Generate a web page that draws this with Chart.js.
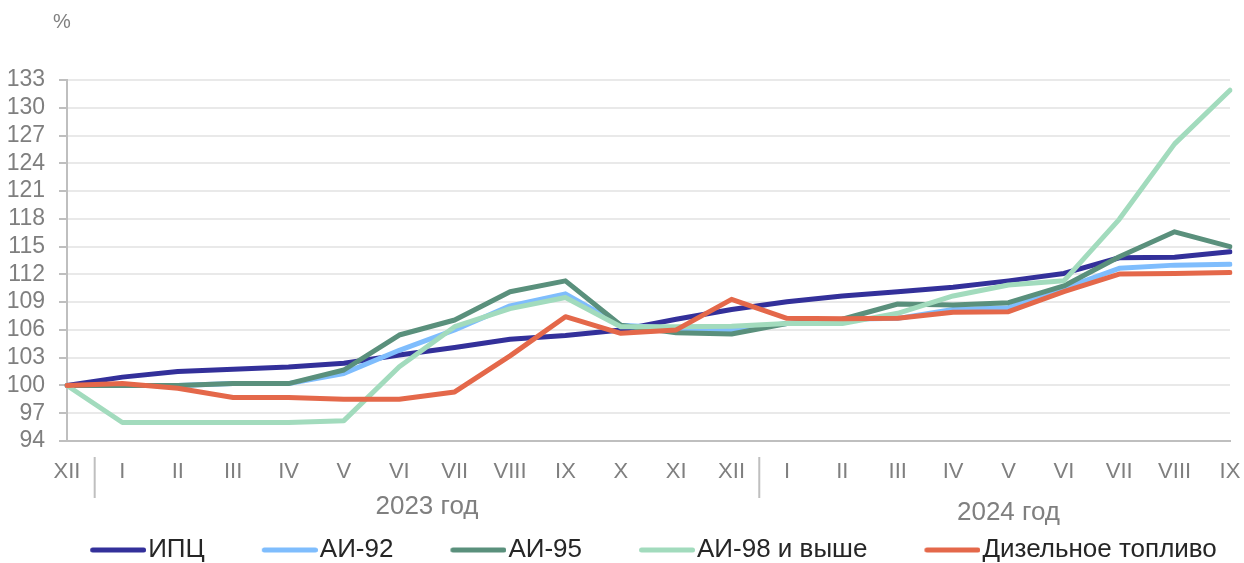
<!DOCTYPE html>
<html lang="ru">
<head>
<meta charset="utf-8">
<script src="https://cdn.jsdelivr.net/npm/chart.js@4.4.1/dist/chart.umd.min.js"></script>
<style>
    html, body { margin: 0; padding: 0; background: #ffffff; overflow: hidden; }
    #wrap { position: relative; width: 1244px; height: 563px; }
</style>
</head>
<body>
<div id="wrap"><canvas id="fuelChart"></canvas></div>
<script>
// Month labels, Dec 2022 .. Sep 2024
const months = ['XII', 'I', 'II', 'III', 'IV', 'V', 'VI', 'VII', 'VIII', 'IX', 'X', 'XI', 'XII',
                'I', 'II', 'III', 'IV', 'V', 'VI', 'VII', 'VIII', 'IX'];
const yearLabels = ['2023 год', '2024 год'];
const yTicks = [94, 97, 100, 103, 106, 109, 112, 115, 118, 121, 124, 127, 130, 133];

const cpi = [100, 100.9, 101.5, 101.75, 102.0, 102.4, 103.3, 104.1, 105.0, 105.4, 106.0, 107.15, 108.2,
             109.05, 109.67, 110.13, 110.6, 111.3, 112.1, 113.8, 113.85, 114.45];
const ai92 = [100, 100, 100, 100.2, 100.2, 101.3, 103.8, 106.0, 108.6, 109.9, 106.5, 106.17, 106.0,
              106.7, 107.15, 107.25, 108.2, 108.4, 110.5, 112.65, 113.0, 113.1];
const ai95 = [100, 100, 100, 100.2, 100.2, 101.67, 105.45, 107.07, 110.13, 111.3, 106.5, 105.7, 105.56,
              106.7, 107.15, 108.8, 108.7, 108.94, 110.75, 113.9, 116.6, 115.0];
const ai98 = [100, 96.0, 96.0, 96.0, 96.0, 96.2, 102.03, 106.35, 108.3, 109.5, 106.35, 106.35, 106.4,
              106.7, 106.7, 107.8, 109.67, 110.85, 111.3, 117.95, 126.1, 131.9];
const diesel = [100, 100.2, 99.7, 98.7, 98.7, 98.5, 98.5, 99.3, 103.2, 107.43, 105.63, 106.0, 109.3,
                107.25, 107.2, 107.25, 107.9, 107.97, 110.13, 112.04, 112.1, 112.2];

const FONT = "'Liberation Sans', Arial, sans-serif";
const GREY = '#7f7f7f';

// Legend marker: a short thick line, drawn on the right part of the image so
// that it ends just before the label text (as in the original legend)
function legendLine(color) {
    const c = document.createElement('canvas');
    c.width = 68;
    c.height = 8;
    const g = c.getContext('2d');
    g.strokeStyle = color;
    g.lineWidth = 5;
    g.lineCap = 'round';
    g.beginPath();
    g.moveTo(14.5, 4);
    g.lineTo(65.5, 4);
    g.stroke();
    return c;
}

function series(label, data, color, order) {
    return {
        label: label,
        data: data,
        borderColor: color,
        backgroundColor: color,
        borderWidth: 5,
        borderCapStyle: 'round',
        borderJoinStyle: 'round',
        pointRadius: 0,
        pointStyle: legendLine(color),
        tension: 0,
        order: order
    };
}

// Extra text: "%" unit, group separators and year captions under the month ticks
const groupPlugin = {
    id: 'groups',
    afterDraw(chart) {
        const ctx = chart.ctx;
        const x = chart.scales.x;
        const bottom = chart.chartArea.bottom;
        ctx.save();
        ctx.fillStyle = GREY;
        ctx.font = '20px ' + FONT;
        ctx.textAlign = 'center';
        ctx.textBaseline = 'middle';
        ctx.fillText('%', 62, 22);

        ctx.strokeStyle = '#bfbfbf';
        ctx.lineWidth = 2;
        [0, 12].forEach(i => {
            const sx = (x.getPixelForValue(i) + x.getPixelForValue(i + 1)) / 2;
            ctx.beginPath();
            ctx.moveTo(sx, bottom + 16);
            ctx.lineTo(sx, bottom + 57);
            ctx.stroke();
        });

        ctx.font = '26px ' + FONT;
        const c1 = (x.getPixelForValue(1) + x.getPixelForValue(12)) / 2;
        const c2 = (x.getPixelForValue(13) + x.getPixelForValue(21)) / 2;
        ctx.fillText(yearLabels[0], c1, bottom + 66);
        ctx.fillText(yearLabels[1], c2, bottom + 72);
        ctx.restore();
    }
};

const ctx = document.getElementById('fuelChart').getContext('2d');
new Chart(ctx, {
    type: 'line',
    data: {
        labels: months,
        datasets: [
            series('ИПЦ', cpi, '#33309a', 5),
            series('АИ-92', ai92, '#7fbdfd', 4),
            series('АИ-95', ai95, '#5a907c', 3),
            series('АИ-98 и выше', ai98, '#a2dbbd', 2),
            series('Дизельное топливо', diesel, '#e4684a', 1)
        ]
    },
    options: {
        responsive: true,
        maintainAspectRatio: false,
        animation: false,
        layout: {
            // negative right/bottom padding widens the legend box so it sits like the original
            padding: { top: 80, right: -62, bottom: -10, left: 0 }
        },
        plugins: {
            title: { display: false },
            tooltip: { enabled: false },
            legend: {
                position: 'bottom',
                labels: {
                    usePointStyle: true,
                    pointStyleWidth: 46,
                    boxHeight: 5,
                    padding: 56,
                    color: '#262626',
                    font: { family: FONT, size: 26 },
                    sort: (a, b) => a.datasetIndex - b.datasetIndex
                }
            }
        },
        scales: {
            x: {
                offset: false,
                afterFit: scale => {
                    scale.height = 40;
                    scale.paddingLeft = 0;
                    scale.paddingRight = 14;
                },
                grid: { display: false },
                border: { color: '#bfbfbf', width: 2 },
                ticks: {
                    color: GREY,
                    autoSkip: false,
                    maxRotation: 0,
                    padding: 10,
                    font: { family: FONT, size: 22 }
                }
            },
            y: {
                min: 94,
                max: 133,
                afterFit: scale => { scale.width = 67; },
                afterBuildTicks: scale => { scale.ticks = yTicks.map(v => ({ value: v })); },
                grid: {
                    color: '#e9e9e9',
                    lineWidth: 2,
                    tickColor: '#bfbfbf',
                    tickLength: 8
                },
                border: { color: '#bfbfbf', width: 2 },
                ticks: {
                    color: GREY,
                    autoSkip: false,
                    padding: 14,
                    font: { family: FONT, size: 23 }
                }
            }
        }
    },
    plugins: [groupPlugin]
});
</script>
</body>
</html>
